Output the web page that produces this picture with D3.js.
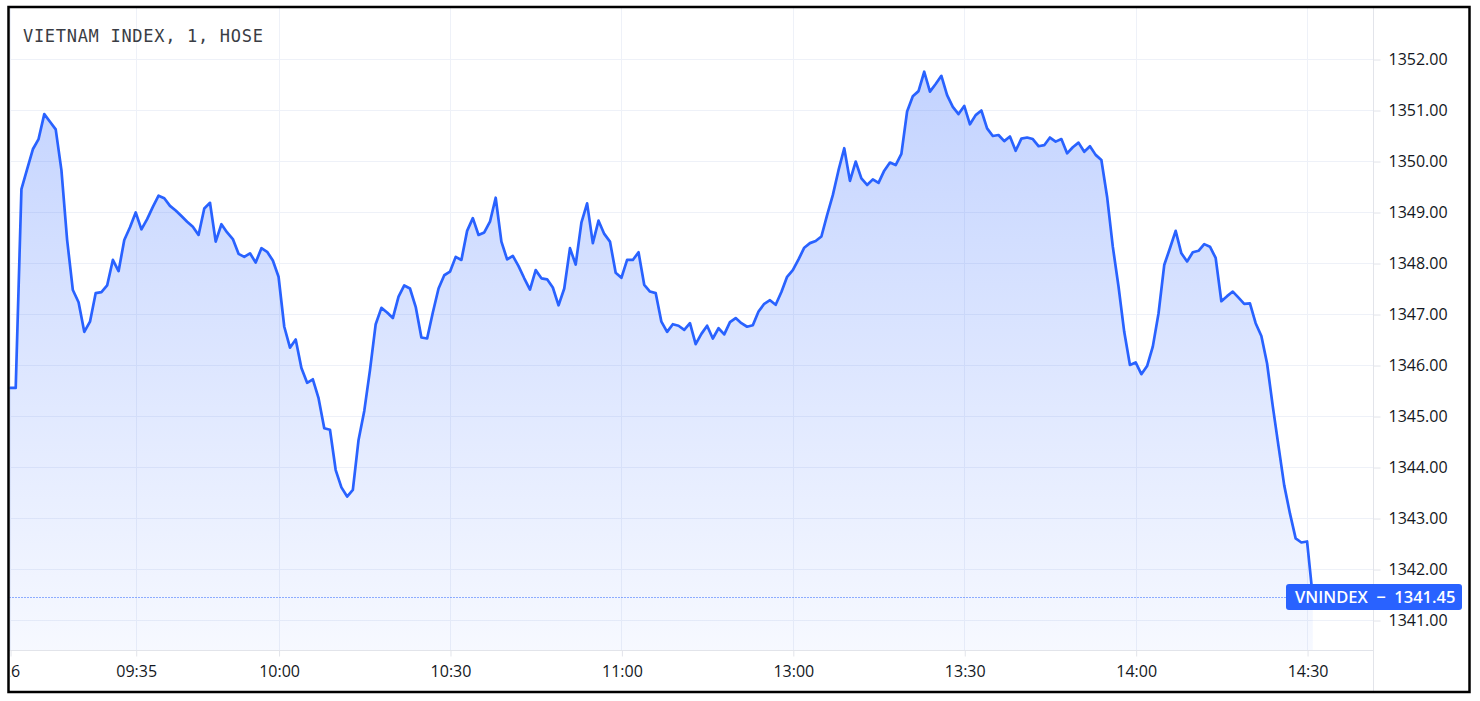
<!DOCTYPE html>
<html>
<head>
<meta charset="utf-8">
<script src="https://cdn.jsdelivr.net/npm/d3@7"></script>
<style>
  html, body { margin: 0; padding: 0; background: #ffffff; }
  svg { display: block; }
</style>
</head>
<body>
<svg id="chart" width="1480" height="701"></svg>
<script>
// ---------------- DATA ----------------
const title = "VIETNAM INDEX, 1, HOSE";
const seriesName = "VNINDEX";

// bar times (1-minute bars; lunch break removed; last bar = ATC)
const morningStart = "09:13", morningEnd = "11:29";
const afternoonStart = "13:00", afternoonEnd = "14:30";
const closingBar = "14:45";

const values = [
  1345.55, 1345.55, 1349.45, 1349.84, 1350.23, 1350.43, 1350.92, 1350.77, 1350.62, 1349.82,
  1348.45, 1347.47, 1347.23, 1346.65, 1346.85, 1347.41, 1347.43, 1347.56, 1348.06, 1347.84,
  1348.45, 1348.70, 1348.99, 1348.66, 1348.86, 1349.10, 1349.32, 1349.27, 1349.12, 1349.03,
  1348.92, 1348.81, 1348.71, 1348.55, 1349.07, 1349.18, 1348.42, 1348.76, 1348.60, 1348.47,
  1348.18, 1348.12, 1348.19, 1348.01, 1348.29, 1348.22, 1348.05, 1347.73, 1346.75, 1346.34,
  1346.50, 1345.94, 1345.65, 1345.72, 1345.35, 1344.76, 1344.73, 1343.94, 1343.60, 1343.42,
  1343.55, 1344.53, 1345.10, 1345.90, 1346.80, 1347.12, 1347.03, 1346.92, 1347.34, 1347.56,
  1347.50, 1347.14, 1346.54, 1346.52, 1347.03, 1347.50, 1347.76, 1347.83, 1348.12, 1348.06,
  1348.63, 1348.88, 1348.55, 1348.60, 1348.81, 1349.28, 1348.42, 1348.07, 1348.14, 1347.94,
  1347.70, 1347.48, 1347.86, 1347.70, 1347.68, 1347.52, 1347.17, 1347.50, 1348.29, 1347.97,
  1348.79, 1349.17, 1348.39, 1348.83, 1348.57, 1348.42, 1347.81, 1347.71, 1348.06, 1348.06,
  1348.21, 1347.57, 1347.44, 1347.41, 1346.85, 1346.65, 1346.80, 1346.77, 1346.69, 1346.82,
  1346.41, 1346.61, 1346.77, 1346.52, 1346.72, 1346.60, 1346.84, 1346.92, 1346.82, 1346.75,
  1346.78, 1347.05, 1347.20, 1347.27, 1347.18, 1347.43, 1347.73, 1347.86, 1348.07, 1348.30,
  1348.39, 1348.43, 1348.52, 1348.94, 1349.33, 1349.82, 1350.25, 1349.61, 1349.99, 1349.66,
  1349.53, 1349.64, 1349.57, 1349.81, 1349.97, 1349.92, 1350.14, 1350.97, 1351.27, 1351.37,
  1351.75, 1351.36, 1351.51, 1351.67, 1351.29, 1351.06, 1350.92, 1351.08, 1350.72, 1350.90,
  1350.99, 1350.64, 1350.49, 1350.51, 1350.39, 1350.48, 1350.20, 1350.44, 1350.46, 1350.43,
  1350.29, 1350.31, 1350.46, 1350.38, 1350.43, 1350.15, 1350.27, 1350.36, 1350.18, 1350.29,
  1350.12, 1350.02, 1349.30, 1348.32, 1347.54, 1346.65, 1346.00, 1346.05, 1345.82, 1345.98,
  1346.36, 1347.01, 1347.96, 1348.29, 1348.63, 1348.19, 1348.03, 1348.21, 1348.24, 1348.37,
  1348.32, 1348.10, 1347.25, 1347.35, 1347.44, 1347.32, 1347.20, 1347.21, 1346.82, 1346.57,
  1346.03, 1345.19, 1344.41, 1343.64, 1343.09, 1342.60, 1342.52, 1342.54, 1341.45
];

const xTickTimes  = ["09:13", "09:35", "10:00", "10:30", "11:00", "13:00", "13:30", "14:00", "14:30"];
const xTickLabels = ["26",    "09:35", "10:00", "10:30", "11:00", "13:00", "13:30", "14:00", "14:30"];
const yTicks = [1341, 1342, 1343, 1344, 1345, 1346, 1347, 1348, 1349, 1350, 1351, 1352];

// ---------------- BUILD TIMES ----------------
function toMin(s) { const [h, m] = s.split(":").map(Number); return h * 60 + m; }
function toStr(m) { return String(Math.floor(m / 60)).padStart(2, "0") + ":" + String(m % 60).padStart(2, "0"); }
const times = [];
for (let m = toMin(morningStart); m <= toMin(morningEnd); m++) times.push(toStr(m));
for (let m = toMin(afternoonStart); m <= toMin(afternoonEnd); m++) times.push(toStr(m));
times.push(closingBar);
const data = times.map((t, i) => ({ t, v: values[i] }));

// ---------------- LAYOUT ----------------
const frame = { x0: 8.5, y0: 7, x1: 1469.5, y1: 692 };
const plot = { left: 9.5, right: 1373.5, top: 8, bottom: 650.5 };

const svg = d3.select("#chart");

const x = d3.scalePoint().domain(times).range([10, 10 + (times.length - 1) * 5.714]);
const y = d3.scaleLinear().domain([1341, 1352]).range([620, 59]);

const gridColor = "#eef1f8";
const sepColor = "#e2e4ea";
const textColor = "#131722";
const blue = "#2962ff";

const defs = svg.append("defs");
defs.append("clipPath").attr("id", "plotClip")
  .append("rect").attr("x", plot.left).attr("y", plot.top)
  .attr("width", plot.right - plot.left).attr("height", plot.bottom - plot.top);

const grad = defs.append("linearGradient")
  .attr("id", "areaGrad").attr("gradientUnits", "userSpaceOnUse")
  .attr("x1", 0).attr("x2", 0)
  .attr("y1", y(d3.max(values))).attr("y2", plot.bottom);
grad.append("stop").attr("offset", 0).attr("stop-color", blue).attr("stop-opacity", 0.28);
grad.append("stop").attr("offset", 1).attr("stop-color", blue).attr("stop-opacity", 0.04);

// grid
const g = svg.append("g").attr("clip-path", "url(#plotClip)");
g.selectAll(".hg").data(yTicks).join("line")
  .attr("x1", plot.left).attr("x2", plot.right)
  .attr("y1", d => Math.round(y(d)) + 0.5).attr("y2", d => Math.round(y(d)) + 0.5)
  .attr("stroke", gridColor).attr("stroke-width", 1);
g.selectAll(".vg").data(xTickTimes).join("line")
  .attr("x1", d => Math.round(x(d)) + 0.5).attr("x2", d => Math.round(x(d)) + 0.5)
  .attr("y1", plot.top).attr("y2", plot.bottom)
  .attr("stroke", gridColor).attr("stroke-width", 1);

// area + line
const area = d3.area().x(d => x(d.t)).y0(plot.bottom).y1(d => y(d.v));
const line = d3.line().x(d => x(d.t)).y(d => y(d.v));
g.append("path").datum(data).attr("d", area).attr("fill", "url(#areaGrad)");

// last price dotted line
const last = values[values.length - 1];
g.append("line")
  .attr("x1", plot.left).attr("x2", plot.right)
  .attr("y1", Math.round(y(last)) + 0.5).attr("y2", Math.round(y(last)) + 0.5)
  .attr("stroke", blue).attr("stroke-width", 1).attr("stroke-dasharray", "1,2");

g.append("path").datum(data).attr("d", line)
  .attr("fill", "none").attr("stroke", blue).attr("stroke-width", 2.7)
  .attr("stroke-linejoin", "round").attr("stroke-linecap", "round");

// separators
svg.append("line").attr("x1", plot.right).attr("x2", plot.right)
  .attr("y1", frame.y0).attr("y2", frame.y1).attr("stroke", sepColor);
svg.append("line").attr("x1", frame.x0).attr("x2", plot.right)
  .attr("y1", plot.bottom).attr("y2", plot.bottom).attr("stroke", sepColor);

// y axis
const yAxis = d3.axisRight(y).tickValues(yTicks).tickFormat(d3.format(".2f"))
  .tickSize(7).tickPadding(8);
const ya = svg.append("g").attr("transform", `translate(${plot.right},0.5)`).call(yAxis);
ya.select(".domain").remove();
ya.selectAll(".tick line").attr("stroke", sepColor);
ya.selectAll(".tick text").attr("fill", textColor)
  .style("font-family", "'Open Sans', sans-serif").style("font-size", "16px");

// x axis
const labelOf = new Map(xTickTimes.map((t, i) => [t, xTickLabels[i]]));
const xAxis = d3.axisBottom(x).tickValues(xTickTimes).tickFormat(d => labelOf.get(d))
  .tickSize(6).tickPadding(9);
defs.append("clipPath").attr("id", "xClip")
  .append("rect").attr("x", 10).attr("y", plot.bottom).attr("width", plot.right - 10).attr("height", 40);
const xa = svg.append("g").attr("clip-path", "url(#xClip)")
  .append("g").attr("transform", `translate(0.5,${plot.bottom})`).call(xAxis);
xa.select(".domain").remove();
xa.selectAll(".tick line").attr("stroke", sepColor);
xa.selectAll(".tick text").attr("fill", textColor)
  .style("font-family", "'Open Sans', sans-serif").style("font-size", "16px");

// last price label
const lblY = y(last);
const lbl = svg.append("g");
lbl.append("rect").attr("x", 1286).attr("y", lblY - 13).attr("width", 176).attr("height", 26)
  .attr("rx", 3).attr("fill", blue);
lbl.append("text").attr("x", 1295).attr("y", lblY).attr("dy", "0.35em")
  .attr("fill", "#ffffff").style("font-family", "'Open Sans', sans-serif")
  .style("font-size", "16.5px").style("font-weight", 600).style("white-space", "pre")
  .attr("xml:space", "preserve")
  .text(`${seriesName}  \u2212  ${d3.format(".2f")(last)}`);

// title
svg.append("text").attr("x", 23).attr("y", 42)
  .attr("fill", "#3a3d44").style("font-family", "'DejaVu Sans Mono', monospace")
  .style("font-size", "17px").style("letter-spacing", "0.7px")
  .text(title);

// outer frame
svg.append("rect").attr("x", frame.x0).attr("y", frame.y0)
  .attr("width", frame.x1 - frame.x0).attr("height", frame.y1 - frame.y0)
  .attr("fill", "none").attr("stroke", "#000").attr("stroke-width", 2.5);
</script>
</body>
</html>
